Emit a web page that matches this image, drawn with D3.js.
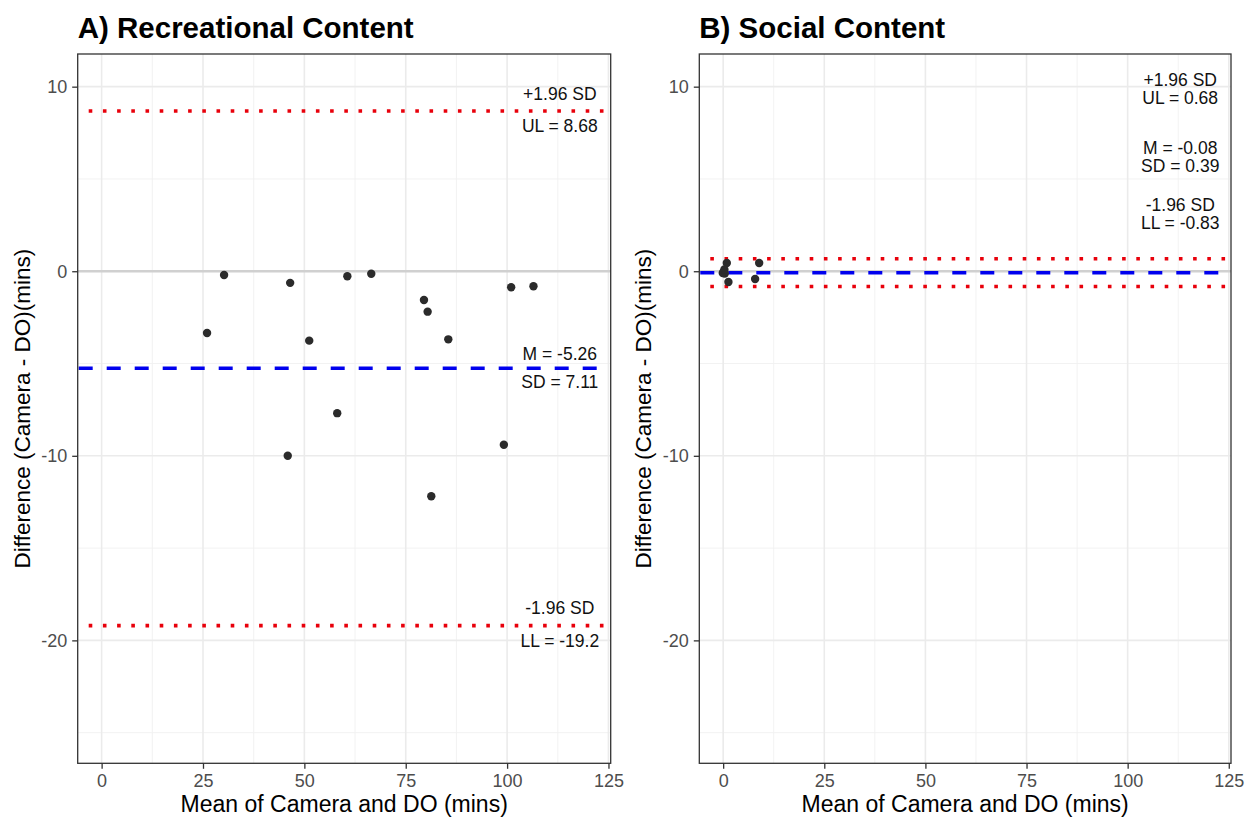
<!DOCTYPE html>
<html>
<head>
<meta charset="utf-8">
<script src="https://cdn.jsdelivr.net/npm/d3@7"></script>
<style>
  body { margin: 0; background: #fff; }
  text { font-family: Arial, "Liberation Sans", sans-serif; }
</style>
</head>
<body>
<div id="chart"></div>
<script>
// Bland-Altman data
const recMean = [26, 30.2, 46.5, 45.9, 51.2, 58.1, 60.6, 66.5, 79.5, 80.4, 81.3, 85.5, 99.2, 101, 106.5]
const recDiff = [-3.35, -0.2, -0.63, -10, -3.76, -7.69, -0.27, -0.14, -1.56, -2.19, -12.19, -3.69, -9.4, -0.87, -0.81]

const socMean = [0.9, 0.1, 0.4, -0.1, 0.3, 1.3, 8.9, 7.9]
const socDiff = [0.45, -0.05, -0.12, -0.1, 0.1, -0.58, 0.45, -0.42]

// UL, M, LL
const recLines = [8.68, -5.26, -19.2]
const socLines = [0.68, -0.08, -0.83]

const recLabels = ['+1.96 SD', 'UL = 8.68', 'M = -5.26', 'SD = 7.11', '-1.96 SD', 'LL = -19.2']
const recLabelY = [9.6, 7.9, -4.5, -6.0, -18.25, -20.0]
const socLabels = ['+1.96 SD', 'UL = 0.68', 'M = -0.08', 'SD = 0.39', '-1.96 SD', 'LL = -0.83']
const socLabelY = [10.36, 9.39, 6.68, 5.71, 3.59, 2.62]

const xTicks = [0, 25, 50, 75, 100, 125]
const xMinor = [12.5, 37.5, 62.5, 87.5, 112.5]
const yTicks = [10, 0, -10, -20]
const yMinor = [5, -5, -15, -25]

const width = 1253
const height = 819

const svg = d3.select('#chart')
  .append('svg')
  .attr('width', width)
  .attr('height', height)

svg.append('rect').attr('width', width).attr('height', height).attr('fill', '#fff')

function drawPanel(left, right, title, xs, ys, lines, labels, labelY) {
  const top = 54
  const bottom = 763.3

  let xScale = d3.scaleLinear().domain([-5.9, 125.55]).range([left, right])
  let yScale = d3.scaleLinear().domain([-26.66, 11.77]).range([bottom, top])

  let g = svg.append('g')

  //grid
  g.selectAll('.xminor').data(xMinor).enter().append('line')
    .attr('x1', d => xScale(d)).attr('x2', d => xScale(d))
    .attr('y1', top).attr('y2', bottom)
    .attr('stroke', '#f0f0f0').attr('stroke-width', 0.9)
  g.selectAll('.yminor').data(yMinor).enter().append('line')
    .attr('y1', d => yScale(d)).attr('y2', d => yScale(d))
    .attr('x1', left).attr('x2', right)
    .attr('stroke', '#f0f0f0').attr('stroke-width', 0.9)
  g.selectAll('.xmajor').data(xTicks).enter().append('line')
    .attr('x1', d => xScale(d)).attr('x2', d => xScale(d))
    .attr('y1', top).attr('y2', bottom)
    .attr('stroke', '#ebebeb').attr('stroke-width', 1.6)
  g.selectAll('.ymajor').data(yTicks).enter().append('line')
    .attr('y1', d => yScale(d)).attr('y2', d => yScale(d))
    .attr('x1', left).attr('x2', right)
    .attr('stroke', '#ebebeb').attr('stroke-width', 1.6)

  //zero line
  g.append('line')
    .attr('x1', left).attr('x2', right)
    .attr('y1', yScale(0)).attr('y2', yScale(0))
    .attr('stroke', '#d0d0d0').attr('stroke-width', 2.6)

  //limits of agreement
  g.selectAll('.loa').data([lines[0], lines[2]]).enter().append('line')
    .attr('x1', left + 1).attr('x2', right - 1)
    .attr('y1', d => yScale(d)).attr('y2', d => yScale(d))
    .attr('stroke', '#e8000b').attr('stroke-width', 3.6)
    .attr('stroke-dasharray', '3.6,10.6')
    .attr('stroke-dashoffset', -10)

  g.append('line')
    .attr('x1', left + 1).attr('x2', right - 1)
    .attr('y1', yScale(lines[1])).attr('y2', yScale(lines[1]))
    .attr('stroke', '#0000ee').attr('stroke-width', 3.6)
    .attr('stroke-dasharray', '14,14')

  //points
  g.selectAll('circle').data(xs).enter().append('circle')
    .attr('cx', d => xScale(d))
    .attr('cy', (d, i) => yScale(ys[i]))
    .attr('r', 4.2)
    .attr('fill', '#2b2b2b')

  //labels
  g.selectAll('.lab').data(labels).enter().append('text')
    .attr('x', xScale(113))
    .attr('y', (d, i) => yScale(labelY[i]))
    .attr('dy', '0.35em')
    .attr('text-anchor', 'middle')
    .style('font-size', '17.5px')
    .style('fill', '#111')
    .text(d => d)

  //border
  g.append('rect')
    .attr('x', left).attr('y', top)
    .attr('width', right - left).attr('height', bottom - top)
    .attr('fill', 'none').attr('stroke', '#333').attr('stroke-width', 1.3)

  //axes (plain hyphen for negatives, as in the original)
  let xAxis = d3.axisBottom(xScale).tickValues(xTicks).tickSize(5.5).tickPadding(5).tickFormat(d => String(d))
  let yAxis = d3.axisLeft(yScale).tickValues(yTicks).tickSize(5.5).tickPadding(5).tickFormat(d => String(d))

  let gx = g.append('g').attr('transform', 'translate(0,' + bottom + ')').call(xAxis)
  let gy = g.append('g').attr('transform', 'translate(' + left + ',0)').call(yAxis)
  ;[gx, gy].forEach(a => {
    a.select('.domain').remove()
    a.selectAll('line').attr('stroke', '#333').attr('stroke-width', 1.3)
    a.selectAll('text').style('font-size', '18px').style('fill', '#4d4d4d')
      .style('font-family', 'Arial, "Liberation Sans", sans-serif')
  })

  //titles
  g.append('text')
    .attr('x', (left + right) / 2).attr('y', 812)
    .attr('text-anchor', 'middle')
    .style('font-size', '23px')
    .text('Mean of Camera and DO (mins)')

  g.append('text')
    .attr('transform', 'translate(' + (left - 48) + ',' + (top + bottom) / 2 + ') rotate(-90)')
    .attr('text-anchor', 'middle')
    .style('font-size', '22.5px')
    .text('Difference (Camera - DO)(mins)')

  g.append('text')
    .attr('x', left).attr('y', 38)
    .style('font-size', '29.5px')
    .style('font-weight', 'bold')
    .text(title)
}

drawPanel(77.7, 610.7, 'A) Recreational Content', recMean, recDiff, recLines, recLabels, recLabelY)
drawPanel(699.3, 1231, 'B) Social Content', socMean, socDiff, socLines, socLabels, socLabelY)
</script>
</body>
</html>
